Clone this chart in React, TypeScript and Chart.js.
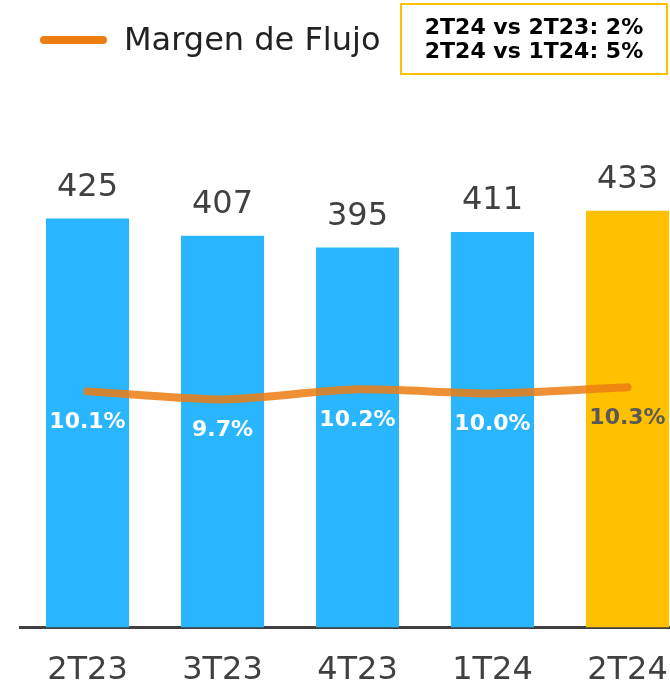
import React, { useEffect, useRef } from "react";
import { Chart, registerables } from "chart.js";

Chart.register(...registerables);

const categories = ["2T23", "3T23", "4T23", "1T24", "2T24"];
const flujo = [425, 407, 395, 411, 433];
const margen = [10.1, 9.7, 10.2, 10.0, 10.3];
const barColors = ["#29B6FF", "#29B6FF", "#29B6FF", "#29B6FF", "#FFC000"];
const pctColors = ["#FFFFFF", "#FFFFFF", "#FFFFFF", "#FFFFFF", "#595959"];
const legendLabel = "Margen de Flujo";
const boxLines = ["2T24 vs 2T23: 2%", "2T24 vs 1T24: 5%"];

const FONT = "'DejaVu Sans', Verdana, sans-serif";

const labelPlugin = {
  id: "valueLabels",
  afterDatasetsDraw(chart: any) {
    const ctx = chart.ctx;
    const barMeta = chart.getDatasetMeta(0);
    const lineMeta = chart.getDatasetMeta(1);
    ctx.save();
    ctx.textAlign = "center";
    ctx.textBaseline = "middle";
    ctx.font = `32px ${FONT}`;
    ctx.fillStyle = "#404040";
    barMeta.data.forEach((el: any, i: number) => {
      ctx.fillText(String(flujo[i]), el.x, el.y - 31);
    });
    ctx.font = `bold 22px ${FONT}`;
    lineMeta.data.forEach((el: any, i: number) => {
      ctx.fillStyle = pctColors[i];
      ctx.fillText(margen[i].toFixed(1) + "%", el.x, el.y + 31);
    });
    ctx.restore();
  },
};

export default function App() {
  const ref = useRef<HTMLCanvasElement | null>(null);
  useEffect(() => {
    if (!ref.current) return;
    const chart = new Chart(ref.current, {
      type: "bar",
      data: {
        labels: categories,
        datasets: [
          {
            type: "bar",
            label: "Flujo",
            data: flujo,
            backgroundColor: barColors,
            categoryPercentage: 1,
            barPercentage: 0.615,
            yAxisID: "y",
            order: 2,
          },
          {
            type: "line",
            label: legendLabel,
            data: margen,
            borderColor: "rgba(237,125,17,0.85)",
            borderWidth: 8,
            borderCapStyle: "round",
            pointRadius: 0,
            tension: 0.25,
            yAxisID: "y2",
            order: 1,
          } as any,
        ],
      },
      options: {
        animation: false,
        responsive: false,
        maintainAspectRatio: false,
        layout: { padding: { left: 20, right: 0, top: 0, bottom: 0 } },
        plugins: { legend: { display: false }, tooltip: { enabled: false } },
        scales: {
          x: {
            grid: { display: false, drawTicks: false },
            border: { display: true, color: "#404040", width: 3 },
            ticks: {
              color: "#404040",
              font: { family: FONT, size: 32 },
              padding: 24,
            },
          },
          y: { display: false, min: 0, max: 652 },
          y2: { display: false, min: -1.7, max: 29.65 },
        },
      },
      plugins: [labelPlugin],
    });
    return () => chart.destroy();
  }, []);

  return (
    <div
      style={{
        position: "fixed",
        left: 0,
        top: 0,
        width: 670,
        height: 683,
        overflow: "hidden",
        background: "#fff",
        fontFamily: FONT,
      }}
    >
      <canvas ref={ref} width={695} height={714} style={{ position: "absolute", left: 0, top: 0 }} />
      <div
        style={{
          position: "absolute",
          left: 40,
          top: 36,
          width: 67,
          height: 8,
          borderRadius: 4,
          background: "#ED7D11",
        }}
      />
      <div
        style={{
          position: "absolute",
          left: 124,
          top: 20,
          fontSize: 32,
          lineHeight: "38px",
          color: "#222",
          whiteSpace: "nowrap",
        }}
      >
        {legendLabel}
      </div>
      <div
        style={{
          position: "absolute",
          left: 400,
          top: 3,
          width: 268,
          height: 72,
          boxSizing: "border-box",
          border: "2px solid #FFC000",
          display: "flex",
          flexDirection: "column",
          justifyContent: "center",
          alignItems: "center",
          fontWeight: "bold",
          fontSize: 22,
          lineHeight: "24px",
          color: "#000",
        }}
      >
        {boxLines.map((t) => (
          <div key={t} style={{ whiteSpace: "nowrap" }}>
            {t}
          </div>
        ))}
      </div>
    </div>
  );
}
